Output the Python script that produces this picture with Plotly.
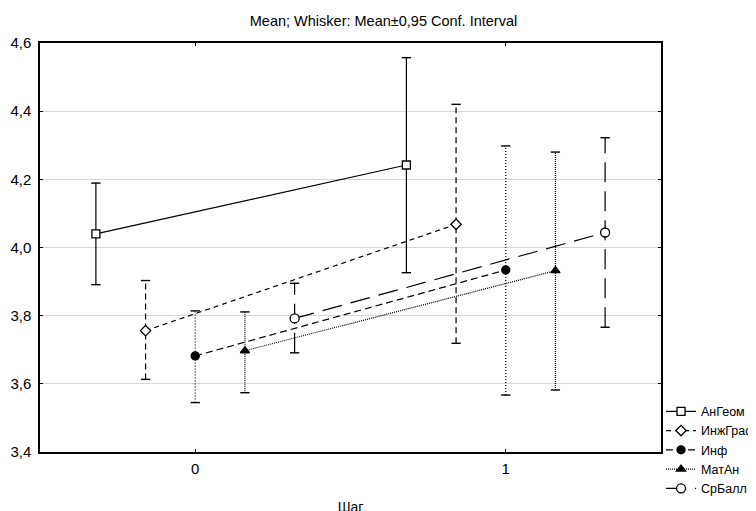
import plotly.graph_objects as go

# ---- data ----
steps = [0, 1]
step_labels = ["0", "1"]
series_names = ["АнГеом", "ИнжГраф", "Инф", "МатАн", "СрБалл"]
offsets = [-0.32, -0.16, 0.0, 0.16, 0.32]

mean_angeom = [4.040, 4.242]
lo_angeom = [3.891, 3.926]
hi_angeom = [4.189, 4.557]

mean_inzh = [3.756, 4.068]
lo_inzh = [3.613, 3.719]
hi_inzh = [3.903, 4.420]

mean_inf = [3.682, 3.934]
lo_inf = [3.545, 3.567]
hi_inf = [3.814, 4.298]

mean_matan = [3.697, 3.932]
lo_matan = [3.574, 3.582]
hi_matan = [3.811, 4.280]

mean_srball = [3.792, 4.044]
lo_srball = [3.691, 3.766]
hi_srball = [3.895, 4.322]

means = [mean_angeom, mean_inzh, mean_inf, mean_matan, mean_srball]
lows = [lo_angeom, lo_inzh, lo_inf, lo_matan, lo_srball]
highs = [hi_angeom, hi_inzh, hi_inf, hi_matan, hi_srball]

# ---- styles ----
line_dash = ["solid", "5px,4px", "7px,4px", "1px,1px", "20px,9px"]
whisk_dash = ["solid", "6px,4px", "1px,2px", "1px,1px", "20px,9px"]
symbols = ["square", "diamond", "circle", "triangle-up", "circle"]
fills = ["white", "white", "black", "black", "white"]
msize = [8, 8, 8, 8, 9]
CAP = 0.015

fig = go.Figure()

# whiskers first (under the markers)
for i, name in enumerate(series_names):
    xs = [s + offsets[i] for s in steps]
    vx, vy, cx, cy = [], [], [], []
    for x, lo, hi in zip(xs, lows[i], highs[i]):
        vx += [x, x, None]
        vy += [lo, hi, None]
        cx += [x - CAP, x + CAP, None, x - CAP, x + CAP, None]
        cy += [lo, lo, None, hi, hi, None]
    fig.add_trace(go.Scatter(x=vx, y=vy, mode="lines", showlegend=False,
                             hoverinfo="skip",
                             line=dict(color="black", width=1.2, dash=whisk_dash[i])))
    fig.add_trace(go.Scatter(x=cx, y=cy, mode="lines", showlegend=False,
                             hoverinfo="skip",
                             line=dict(color="black", width=1.4, dash="solid")))

for i, name in enumerate(series_names):
    xs = [s + offsets[i] for s in steps]
    fig.add_trace(go.Scatter(
        x=xs, y=means[i], mode="lines+markers", name=name,
        line=dict(color="black", width=1.2, dash=line_dash[i]),
        marker=dict(symbol=symbols[i], size=msize[i], color=fills[i],
                    line=dict(color="black", width=1.3)),
    ))

font_family = "Liberation Sans, Arial, sans-serif"

fig.update_layout(
    width=756, height=511,
    margin=dict(l=32, r=103, t=35, b=67, autoexpand=False),
    paper_bgcolor="white", plot_bgcolor="white",
    separators=",.",
    font=dict(family=font_family, size=14, color="black"),
    title=dict(text="Mean; Whisker: Mean±0,95 Conf. Interval",
               x=0.4967, xanchor="center", y=0.9746, yanchor="middle",
               font=dict(size=14.5, family=font_family)),
    legend=dict(xref="container", yref="container",
                x=0.8638, xanchor="left", y=0.03, yanchor="bottom",
                font=dict(size=12.5), tracegroupgap=0, itemwidth=30,
                bgcolor="rgba(0,0,0,0)"),
    showlegend=True,
)

fig.update_xaxes(range=[-0.5, 1.5], tickvals=steps, ticktext=step_labels,
                 showgrid=False, zeroline=False, showline=True,
                 linecolor="black", linewidth=1.5, mirror="ticks",
                 ticks="inside", ticklen=3, tickcolor="black",
                 tickfont=dict(size=15), ticklabelstandoff=2,
                 title=dict(text="Шаг", font=dict(size=14), standoff=26))
fig.update_yaxes(range=[3.4, 4.6], dtick=0.2, tick0=3.4, tickformat=".1f",
                 showgrid=True, gridcolor="#d6d6d6", gridwidth=1,
                 zeroline=False, showline=True, automargin=False,
                 linecolor="black", linewidth=1.5, mirror="ticks",
                 ticks="inside", ticklen=3, tickcolor="black",
                 tickfont=dict(size=15), ticklabelstandoff=4)

fig.write_html("out.html")
